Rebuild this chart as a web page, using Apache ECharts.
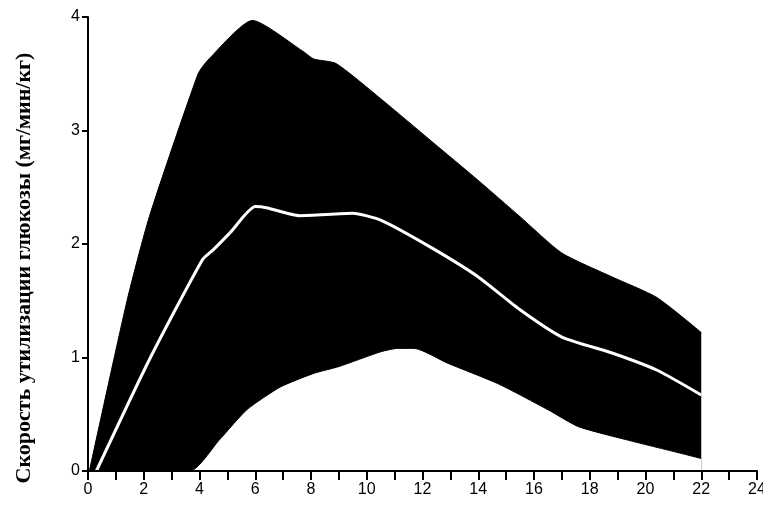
<!DOCTYPE html>
<html>
<head>
<meta charset="utf-8">
<script src="https://cdn.jsdelivr.net/npm/echarts@6.0.0/dist/echarts.min.js"></script>
<style>
  html, body { margin: 0; padding: 0; background: #fff; }
  #chart { width: 763px; height: 512px; }
</style>
</head>
<body>
<div id="chart"></div>
<script>
// time (x) and glucose utilisation rate (y)
const upperBound = [
  [0.05, 0], [1.4, 1.5], [2.2, 2.24], [3.95, 3.5], [4.3, 3.62], [5.9, 3.97],
  [7.7, 3.7], [8.1, 3.63], [8.9, 3.59], [10.5, 3.28], [12.3, 2.91], [14.0, 2.56],
  [15.5, 2.24], [17.0, 1.92], [18.8, 1.71], [20.4, 1.53], [22, 1.22]
];
const meanLine = [
  [0.3, 0], [2.2, 0.98], [4.1, 1.86], [4.5, 1.95], [5.1, 2.1], [6.0, 2.33],
  [6.4, 2.32], [7.6, 2.25], [9.5, 2.27], [10.5, 2.21], [12.3, 1.97], [14.0, 1.71],
  [15.5, 1.42], [17.0, 1.18], [18.8, 1.04], [20.4, 0.89], [22, 0.67]
];
const lowerBound = [
  [0, 0], [3.66, 0], [4.7, 0.27], [5.7, 0.54], [6.9, 0.74], [8.1, 0.86],
  [9.0, 0.92], [10.5, 1.05], [11.1, 1.08], [11.7, 1.08], [12.9, 0.95], [14.7, 0.77],
  [16.5, 0.54], [17.6, 0.39], [19.4, 0.27], [21.2, 0.16], [22, 0.11]
];
const yTitle = 'Скорость утилизации глюкозы (мг/мин/кг)';

const chart = echarts.init(document.getElementById('chart'));

chart.setOption({
  animation: false,
  backgroundColor: '#fff',
  grid: { left: 88, right: 6, top: 17, bottom: 41, outerBoundsMode: 'none' },
  xAxis: {
    type: 'value',
    min: 0,
    max: 24,
    interval: 2,
    z: 10,
    axisLine: { lineStyle: { color: '#000', width: 2 } },
    axisTick: { length: 9, lineStyle: { color: '#000', width: 2 } },
    minorTick: { show: true, splitNumber: 2, length: 9, lineStyle: { color: '#000', width: 2 } },
    splitLine: { show: false },
    axisLabel: { color: '#000', fontSize: 16, fontFamily: 'Liberation Sans', margin: 11 }
  },
  yAxis: {
    type: 'value',
    min: 0,
    max: 4,
    interval: 1,
    z: 10,
    axisLine: { show: true, lineStyle: { color: '#000', width: 2 } },
    axisTick: { show: true, length: 6, lineStyle: { color: '#000', width: 2 } },
    splitLine: { show: false },
    axisLabel: { color: '#000', fontSize: 16, fontFamily: 'Liberation Sans', margin: 8 }
  },
  graphic: [{
    type: 'text',
    x: 24,
    y: 268,
    rotation: Math.PI / 2,
    style: {
      text: yTitle,
      fill: '#000',
      font: 'bold 22px "Liberation Serif"',
      align: 'center',
      verticalAlign: 'middle'
    }
  }],
  series: [
    {
      type: 'line',
      data: upperBound,
      smooth: 0.2,
      symbol: 'none',
      lineStyle: { color: '#000', width: 1 },
      areaStyle: { color: '#000', opacity: 1 },
      z: 2
    },
    {
      type: 'line',
      data: lowerBound,
      smooth: 0.2,
      symbol: 'none',
      lineStyle: { color: '#000', width: 1 },
      areaStyle: { color: '#fff', opacity: 1 },
      z: 3
    },
    {
      type: 'line',
      data: meanLine,
      smooth: 0.2,
      symbol: 'none',
      lineStyle: { color: '#fff', width: 3 },
      z: 4
    }
  ]
});
</script>
</body>
</html>
